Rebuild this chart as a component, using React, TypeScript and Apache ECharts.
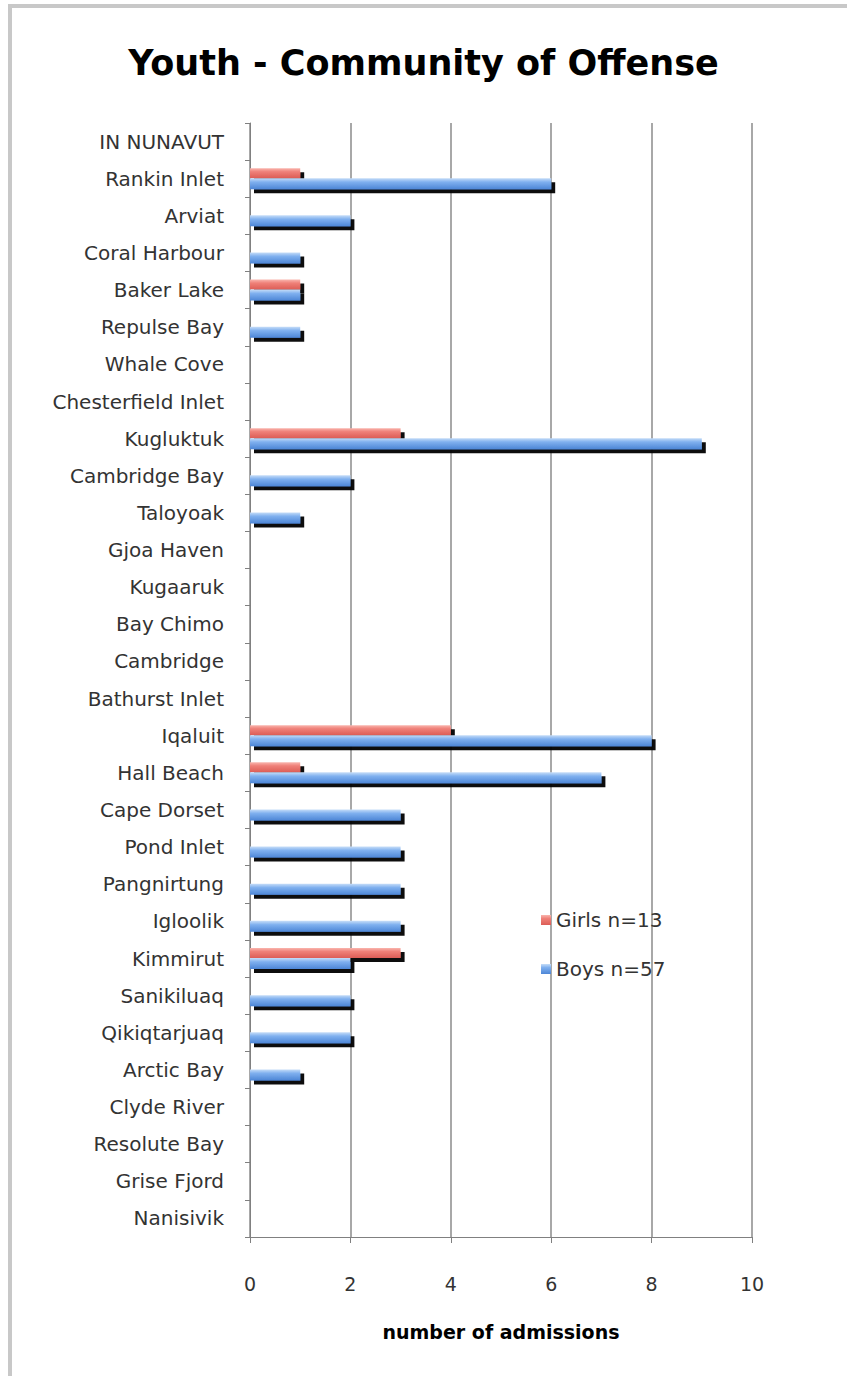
import React, { useEffect, useRef } from "react";
import * as echarts from "echarts";

const categories = [
  "IN NUNAVUT", "Rankin Inlet", "Arviat", "Coral Harbour", "Baker Lake", "Repulse Bay",
  "Whale Cove", "Chesterfield Inlet", "Kugluktuk", "Cambridge Bay", "Taloyoak", "Gjoa Haven",
  "Kugaaruk", "Bay Chimo", "Cambridge", "Bathurst Inlet", "Iqaluit", "Hall Beach",
  "Cape Dorset", "Pond Inlet", "Pangnirtung", "Igloolik", "Kimmirut", "Sanikiluaq",
  "Qikiqtarjuaq", "Arctic Bay", "Clyde River", "Resolute Bay", "Grise Fjord", "Nanisivik",
];
const girls = [0, 1, 0, 0, 1, 0, 0, 0, 3, 0, 0, 0, 0, 0, 0, 0, 4, 1, 0, 0, 0, 0, 3, 0, 0, 0, 0, 0, 0, 0];
const boys = [0, 6, 2, 1, 1, 1, 0, 0, 9, 2, 1, 0, 0, 0, 0, 0, 8, 7, 3, 3, 3, 3, 2, 2, 2, 1, 0, 0, 0, 0];
const seriesNames = ["Girls n=13", "Boys n=57"];
const title = "Youth - Community of Offense";
const xAxisName = "number of admissions";

export default function App() {
  const ref = useRef<HTMLDivElement>(null);
  useEffect(() => {
    if (!ref.current) return;
    const chart = echarts.init(ref.current, undefined, { renderer: "svg" });
    const font = "DejaVu Sans";
    const shadow = {
      shadowColor: "rgba(0,0,0,0.95)",
      shadowBlur: 1,
      shadowOffsetX: 4,
      shadowOffsetY: 4,
    };
    chart.setOption({
      animation: false,
      backgroundColor: "#ffffff",
      textStyle: { fontFamily: font },
      title: {
        text: title,
        left: "center",
        top: 40,
        textStyle: { fontFamily: font, fontSize: 35, fontWeight: "bold", color: "#000" },
      },
      graphic: [
        {
          type: "rect",
          shape: { x: 10, y: 6, width: 860, height: 1400 },
          style: { fill: "none", stroke: "#c8c8c8", lineWidth: 4 },
          silent: true,
        },
      ],
      legend: {
        orient: "vertical",
        left: 536,
        top: 905,
        itemGap: 29,
        itemWidth: 10,
        itemHeight: 10,
        icon: "rect",
        textStyle: { fontFamily: font, fontSize: 20, color: "#333" },
        data: seriesNames,
      },
      grid: { left: 250, right: 95, top: 123, bottom: 139, containLabel: false },
      xAxis: {
        type: "value",
        min: 0,
        max: 10,
        interval: 2,
        name: xAxisName,
        nameLocation: "middle",
        nameGap: 85,
        nameTextStyle: { fontFamily: font, fontSize: 19, fontWeight: "bold", color: "#000" },
        axisLine: { show: true, lineStyle: { color: "#808080", width: 1 } },
        axisTick: { show: true, length: 6, lineStyle: { color: "#808080" } },
        axisLabel: { margin: 37, fontSize: 19, color: "#333", fontFamily: font },
        splitLine: { show: true, lineStyle: { color: "#a8a8a8", width: 2 } },
      },
      yAxis: {
        type: "category",
        inverse: true,
        data: categories,
        axisLine: { show: true, lineStyle: { color: "#808080", width: 1 } },
        axisTick: { show: true, length: 5, lineStyle: { color: "#808080" } },
        axisLabel: { margin: 26, fontSize: 20, color: "#333", fontFamily: font },
        splitLine: { show: false },
      },
      series: [
        {
          name: seriesNames[0],
          type: "bar",
          data: girls,
          barWidth: 10,
          barGap: "0%",
          itemStyle: {
            color: new echarts.graphic.LinearGradient(0, 0, 0, 1, [
              { offset: 0, color: "#f9b5ae" },
              { offset: 0.35, color: "#ef8078" },
              { offset: 1, color: "#dc5d56" },
            ]),
            ...shadow,
          },
        },
        {
          name: seriesNames[1],
          type: "bar",
          data: boys,
          barWidth: 11,
          barGap: "0%",
          itemStyle: {
            color: new echarts.graphic.LinearGradient(0, 0, 0, 1, [
              { offset: 0, color: "#c6ddf8" },
              { offset: 0.35, color: "#7fb0ef" },
              { offset: 1, color: "#4d86d6" },
            ]),
            ...shadow,
          },
        },
      ],
    });
    return () => chart.dispose();
  }, []);
  return (
    <div
      ref={ref}
      style={{ position: "absolute", left: 0, top: 0, width: 847, height: 1376 }}
    />
  );
}
